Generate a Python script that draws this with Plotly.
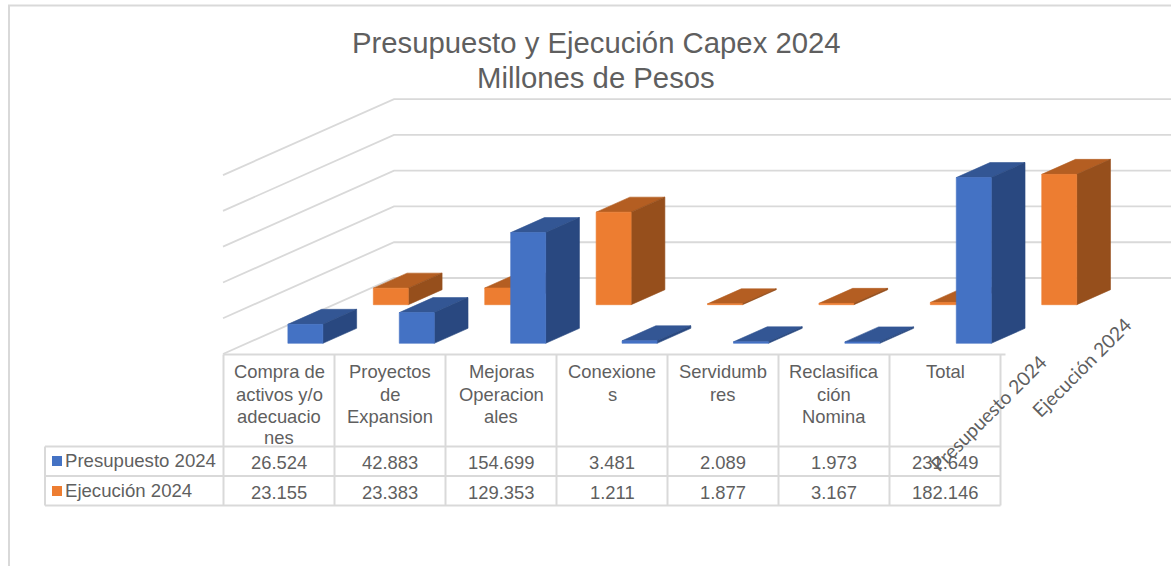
import plotly.graph_objects as go

title_lines = ["Presupuesto y Ejecución Capex 2024", "Millones de Pesos"]
categories = [["Compra de", "activos y/o", "adecuacio", "nes"], ["Proyectos", "de", "Expansion"],
              ["Mejoras", "Operacion", "ales"], ["Conexione", "s"], ["Servidumb", "res"],
              ["Reclasifica", "ción", "Nomina"], ["Total"]]
series_names = ["Presupuesto 2024", "Ejecución 2024"]
presupuesto = [26.524, 42.883, 154.699, 3.481, 2.089, 1.973, 231.649]
ejecucion = [23.155, 23.383, 129.353, 1.211, 1.877, 3.167, 182.146]
value_ticks = [0, 50, 100, 150, 200, 250]

W, H = 1171, 566
FACE = {"blue": ("#4472C4", "#335694", "#294880"), "orange": ("#ED7D31", "#B45E22", "#964F1C")}
TXT = "#5F5F5F"
GRID = "#D9D9D9"
K = 0.7155            # px per value unit
PITCH = 111.4
TABLE_PITCH = 111.0
DX_WALL, DY_WALL = 171.0, 76.0   # floor depth projection
FX, FY = 223.0, 354.0             # front floor corner


def proj(cat_pos, value, depth):
    """Oblique projection: category position, value, depth (0 front .. 1 back)."""
    return FX + cat_pos * PITCH + depth * DX_WALL, FY - value * K - depth * DY_WALL


def face(pts, color, name):
    xs, ys = zip(*pts)
    return go.Scatter(x=list(xs) + [xs[0]], y=list(ys) + [ys[0]], mode="lines", fill="toself",
                      fillcolor=color, line=dict(color=color, width=0.6), name=name,
                      showlegend=False, hoverinfo="skip")


def line(xs, ys, width=1.8):
    return go.Scatter(x=xs, y=ys, mode="lines", line=dict(color=GRID, width=width),
                      showlegend=False, hoverinfo="skip")


def bars(values, depth, left, colors, name):
    out = []
    bw = 35.0 / PITCH     # bar width in category units
    bd = 15.0 / DY_WALL   # bar depth
    off = left / PITCH
    for i, v in enumerate(values):
        a, b = i + off, i + off + bw
        d0, d1 = depth, depth + bd
        out.append(face([proj(a, v, d0), proj(b, v, d0), proj(b, v, d1), proj(a, v, d1)], colors[1], name))
        out.append(face([proj(b, 0, d0), proj(b, v, d0), proj(b, v, d1), proj(b, 0, d1)], colors[2], name))
        out.append(face([proj(a, 0, d0), proj(b, 0, d0), proj(b, v, d0), proj(a, v, d0)], colors[0], name))
    return out


fig = go.Figure()

# outer chart frame (left and top)
fig.add_trace(line([9, 9, W], [H, 5.5, 5.5], 2))

# value gridlines: side wall + back wall
for t in value_ticks:
    p0, p1 = proj(0, t, 0), proj(0, t, 1)
    fig.add_trace(line([p0[0], p1[0], W], [p0[1], p1[1], p1[1]]))

# bars, back row first
for tr in bars(ejecucion, 0.6487, 39.4, FACE["orange"], series_names[1]):
    fig.add_trace(tr)
for tr in bars(presupuesto, 0.1408, 40.8, FACE["blue"], series_names[0]):
    fig.add_trace(tr)

# data table grid
col_x = [223.5 + TABLE_PITCH * i for i in range(8)]
row_y = [354.5, 446.5, 476, 505.5]
fig.add_trace(line([col_x[0], col_x[-1] + 5], [row_y[0], row_y[0]], 2))
for x in col_x:
    fig.add_trace(line([x, x], [row_y[0], row_y[3]], 2))
for y in row_y[1:]:
    fig.add_trace(line([45, col_x[-1]], [y, y], 2))
fig.add_trace(line([45, 45], [row_y[1], row_y[3]], 2))

# legend swatches
fig.add_trace(go.Scatter(x=[57, 57], y=[461, 491], mode="markers", showlegend=False, hoverinfo="skip",
                         marker=dict(symbol="square", size=10, color=[FACE["blue"][0], FACE["orange"][0]],
                                     line=dict(width=0))))

ann = []


def text(x, y, s, size=18.4, xanchor="center", font="Liberation Sans", angle=0):
    ann.append(dict(x=x, y=y, text=s, showarrow=False, xanchor=xanchor, yanchor="middle", textangle=angle,
                    font=dict(family=font, size=size, color=TXT), xref="x", yref="y", align="center"))


text(596, 42, title_lines[0], 29.3)
text(596, 77, title_lines[1], 29.3)
line_y = [371.5, 394, 416, 437]
for i, c in enumerate(categories):
    cx = col_x[i] + TABLE_PITCH / 2
    for j, part in enumerate(c):
        text(cx, line_y[j], part)
    text(cx, 462, f"{presupuesto[i]:.3f}")
    text(cx, 492, f"{ejecucion[i]:.3f}")
text(62.5, 460, series_names[0], 18.6, xanchor="left")
text(62.5, 490, series_names[1], 18.6, xanchor="left")
text(987.5, 413, series_names[0], 19.2, font="Lato", angle=-45)
text(1081, 367, series_names[1], 19.2, font="Lato", angle=-45)

fig.update_layout(
    width=W, height=H, autosize=False, margin=dict(l=0, r=0, t=0, b=0),
    paper_bgcolor="white", plot_bgcolor="white", showlegend=False, annotations=ann,
    xaxis=dict(range=[0, W], visible=False, fixedrange=True),
    yaxis=dict(range=[H, 0], visible=False, fixedrange=True),
)
fig.write_html("out.html", config={"displayModeBar": False},
               post_script="document.body.style.margin='0';document.body.style.overflow='hidden';")
